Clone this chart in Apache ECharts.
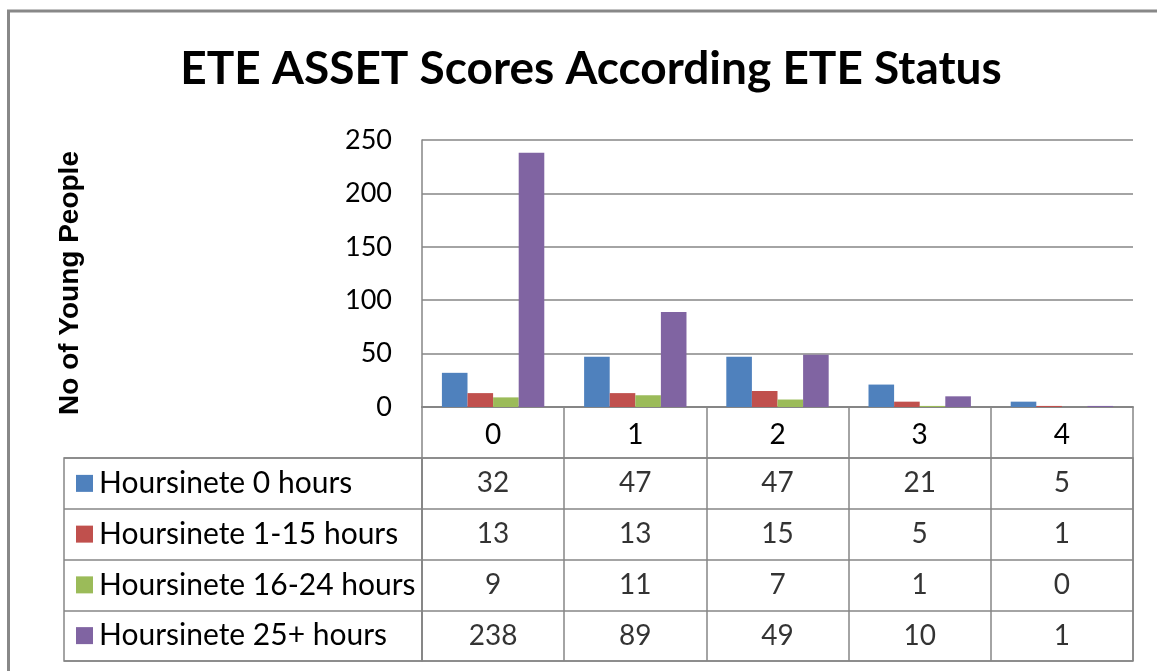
<!DOCTYPE html>
<html>
<head>
<meta charset="utf-8">
<script src="https://cdn.jsdelivr.net/npm/echarts@6/dist/echarts.min.js"></script>
<style>
  html, body { margin: 0; padding: 0; background: #fff; }
  #chart { width: 1157px; height: 671px; }
</style>
</head>
<body>
<div id="chart"></div>
<script>
// data
const categories = ['0', '1', '2', '3', '4'];
const seriesNames = ['Hoursinete 0 hours', 'Hoursinete 1-15 hours', 'Hoursinete 16-24 hours', 'Hoursinete 25+ hours'];
const hours0 = [32, 47, 47, 21, 5];
const hours1to15 = [13, 13, 15, 5, 1];
const hours16to24 = [9, 11, 7, 1, 0];
const hours25plus = [238, 89, 49, 10, 1];
const yTicks = { min: 0, max: 250, interval: 50 };

const allValues = [hours0, hours1to15, hours16to24, hours25plus];
const colors = ['#4F81BD', '#C0504D', '#9BBB59', '#8064A2'];
const lineGray = '#868686';
const font = 'Lato';

const chart = echarts.init(document.getElementById('chart'));

// bars
const barSeries = allValues.map((vals, i) => ({
    name: seriesNames[i],
    type: 'bar',
    xAxisIndex: 0,
    yAxisIndex: 0,
    data: vals,
    barGap: '0%',
    barCategoryGap: '28%',
    itemStyle: { color: colors[i] },
    silent: true
}));

// numbers in the data table
const cellData = [];
allValues.forEach((vals, r) => {
    vals.forEach((v, c) => cellData.push([c, r, v]));
});

// rich styles for the legend keys in the table
const rich = { t: { fontFamily: font, fontSize: 30, color: '#000', padding: [0, 0, 0, 6] } };
colors.forEach((c, i) => {
    rich['k' + i] = { width: 17, height: 17, backgroundColor: c };
});

const option = {
    animation: false,
    title: {
        text: 'ETE ASSET Scores According ETE Status',
        left: 586,
        top: 41,
        textAlign: 'center',
        textStyle: { fontFamily: font, fontSize: 46, fontWeight: 'bold', color: '#000' }
    },
    graphic: [
        {
            type: 'rect',
            shape: { x: 8.5, y: 11, width: 1300, height: 800 },
            style: { fill: 'none', stroke: '#888', lineWidth: 3 },
            silent: true
        },
        {
            type: 'text',
            x: 70,
            y: 283,
            rotation: Math.PI / 2,
            style: {
                text: 'No of Young People',
                fontFamily: 'Liberation Sans',
                fontSize: 28,
                fontWeight: 'bold',
                fill: '#000',
                align: 'center',
                verticalAlign: 'middle'
            }
        }
    ],
    grid: [
        { left: 422, right: 24, top: 140, bottom: 264 },
        { left: 422, right: 24, top: 458, bottom: 10, show: true, borderColor: lineGray, borderWidth: 1.5 },
        { left: 64, width: 358, top: 458, bottom: 10, show: true, borderColor: lineGray, borderWidth: 1.5 }
    ],
    xAxis: [
        {
            type: 'category',
            gridIndex: 0,
            data: categories,
            axisLine: { show: true, lineStyle: { color: lineGray, width: 2 } },
            axisTick: { show: true, length: 51, lineStyle: { color: lineGray, width: 1.5 } },
            axisLabel: { fontFamily: font, fontSize: 28, color: '#000', margin: 14 },
            splitLine: { show: false }
        },
        {
            type: 'category',
            gridIndex: 1,
            data: categories,
            axisLine: { show: false },
            axisTick: { show: false },
            axisLabel: { show: false },
            splitLine: { show: true, lineStyle: { color: lineGray, width: 1.5 } }
        },
        {
            type: 'category',
            gridIndex: 2,
            data: [''],
            axisLine: { show: false },
            axisTick: { show: false },
            axisLabel: { show: false }
        }
    ],
    yAxis: [
        {
            type: 'value',
            gridIndex: 0,
            min: yTicks.min,
            max: yTicks.max,
            interval: yTicks.interval,
            axisLine: { show: true, lineStyle: { color: lineGray, width: 1.5 } },
            axisTick: { show: false },
            axisLabel: { fontFamily: font, fontSize: 27, color: '#000', margin: 30 },
            splitLine: { show: true, lineStyle: { color: lineGray, width: 1.5 } }
        },
        {
            type: 'category',
            gridIndex: 1,
            data: seriesNames,
            inverse: true,
            axisLine: { show: false },
            axisTick: { show: false },
            axisLabel: { show: false },
            splitLine: { show: true, lineStyle: { color: lineGray, width: 1.5 } }
        },
        {
            type: 'category',
            gridIndex: 2,
            data: seriesNames,
            inverse: true,
            axisLine: { show: false },
            axisTick: { show: false },
            axisLabel: {
                inside: true,
                margin: 12,
                align: 'left',
                formatter: (name, i) => `{k${i}|}{t|${name}}`,
                rich: rich
            },
            splitLine: { show: true, lineStyle: { color: lineGray, width: 1.5 } }
        }
    ],
    series: barSeries.concat([{
        type: 'scatter',
        xAxisIndex: 1,
        yAxisIndex: 1,
        data: cellData,
        symbolSize: 1,
        itemStyle: { color: 'rgba(0,0,0,0)' },
        silent: true,
        label: {
            show: true,
            position: 'inside',
            formatter: p => p.value[2],
            fontFamily: font,
            fontSize: 28,
            color: '#000'
        }
    }])
};

chart.setOption(option);
</script>
</body>
</html>
